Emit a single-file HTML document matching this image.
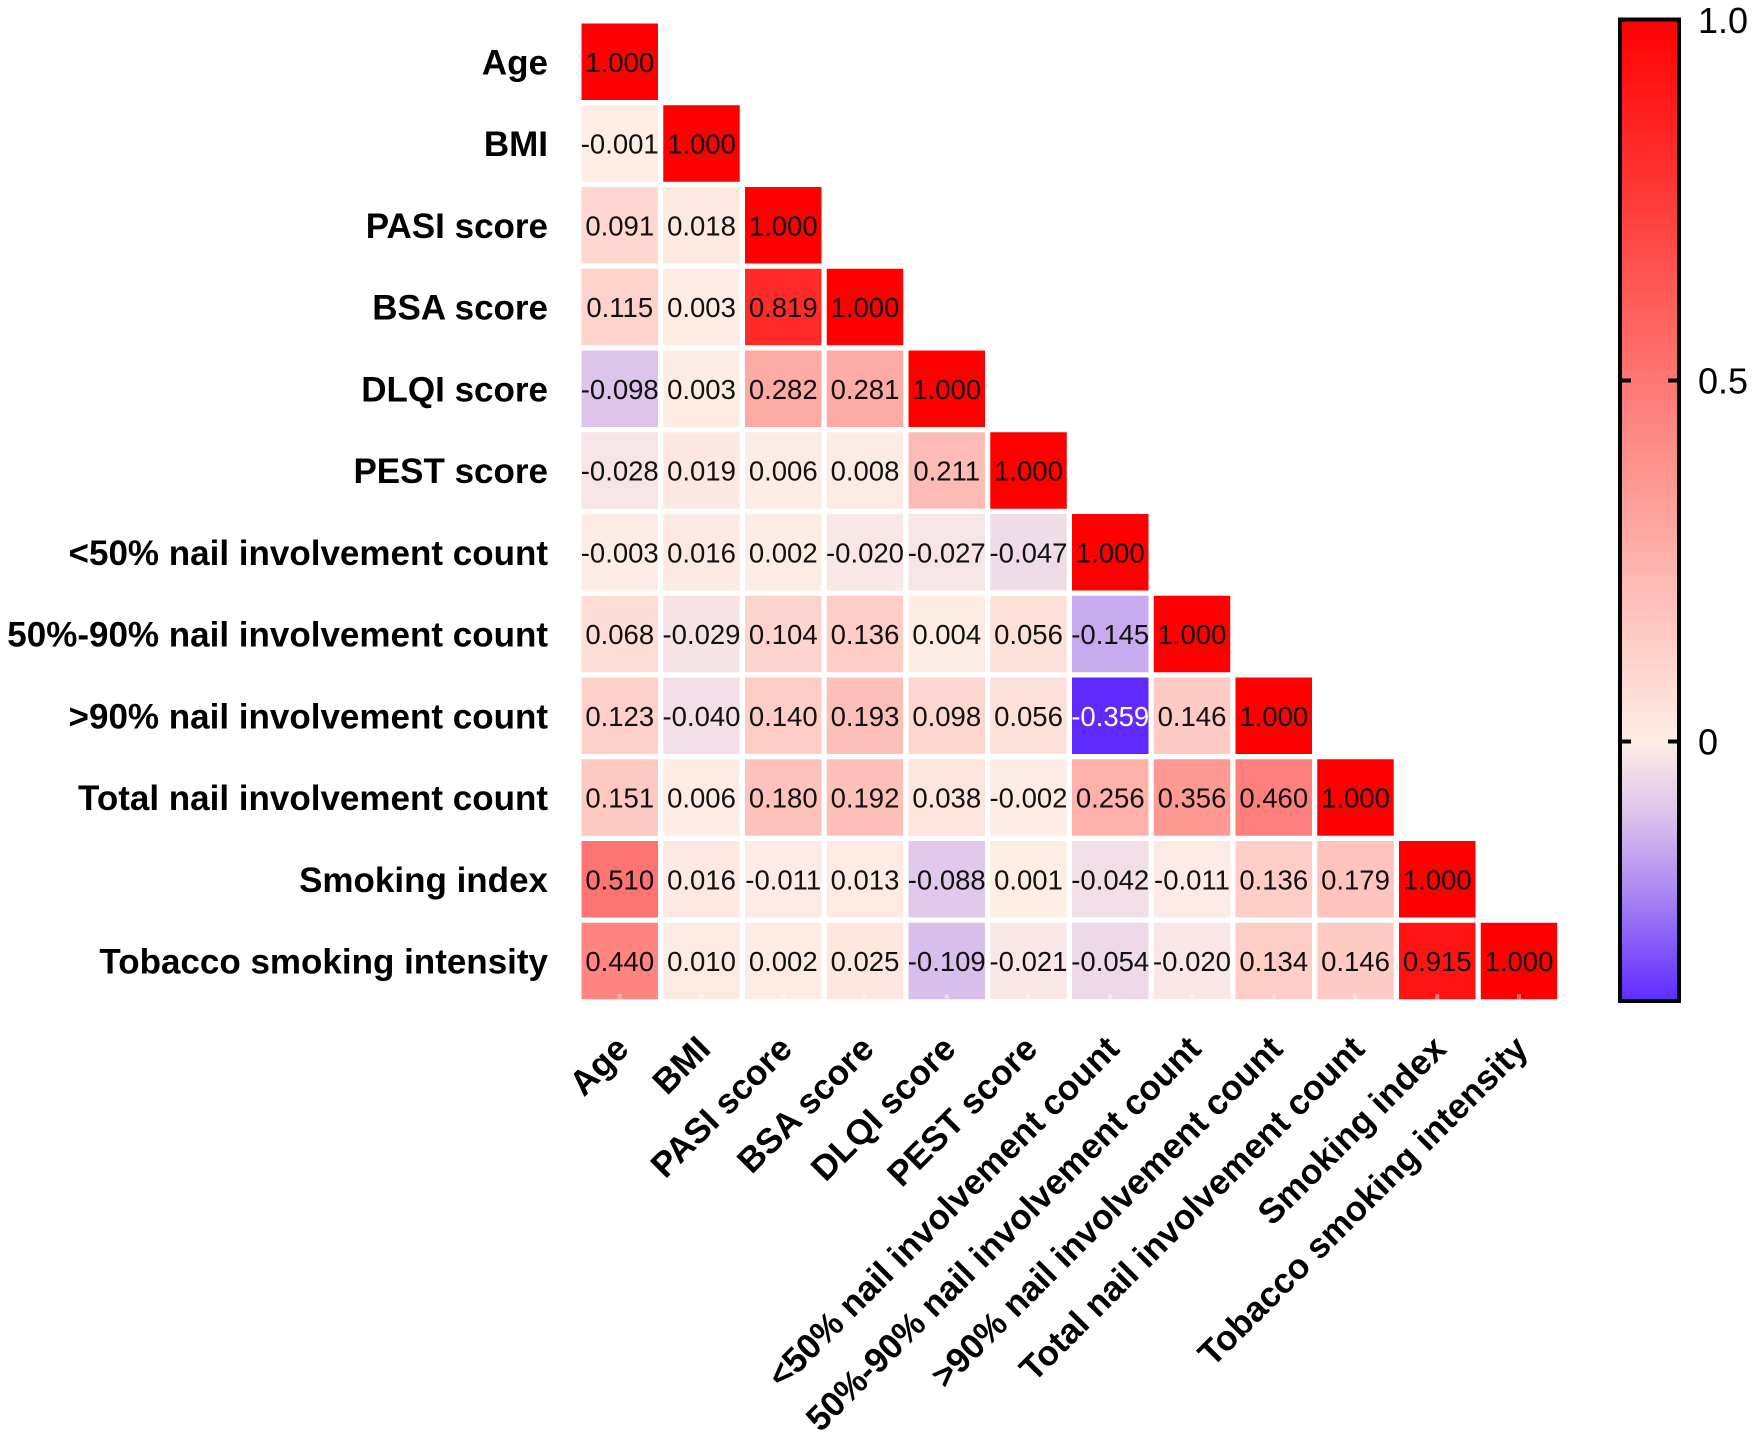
<!DOCTYPE html>
<html>
<head>
<meta charset="utf-8">
<style>
html,body{margin:0;padding:0;background:#fff;}
svg{display:block;}
.v{font-family:"Liberation Sans",Arial,sans-serif;font-size:27.5px;fill:#111;text-anchor:middle;}
.w{fill:#fff;}
.yl{font-family:"Liberation Sans",Arial,sans-serif;font-size:35px;font-weight:bold;fill:#000;text-anchor:end;}
.xl{font-family:"Liberation Sans",Arial,sans-serif;font-size:35px;font-weight:bold;fill:#000;text-anchor:end;}
.cb{font-family:"Liberation Sans",Arial,sans-serif;font-size:36px;fill:#000;}
</style>
</head>
<body>
<svg width="1755" height="1440" viewBox="0 0 1755 1440" xmlns="http://www.w3.org/2000/svg">
<defs>
<linearGradient id="cg" x1="0" y1="0" x2="0" y2="1">
<stop offset="0" stop-color="rgb(255,0,0)"/>
<stop offset="0.7358" stop-color="rgb(253,237,229)"/>
<stop offset="0.8094" stop-color="rgb(219,195,235)"/>
<stop offset="0.883" stop-color="rgb(175,140,242)"/>
<stop offset="1" stop-color="rgb(95,42,255)"/>
</linearGradient>
</defs>
<rect width="1755" height="1440" fill="#fff"/>

<!-- Row 0 -->
<g transform="translate(0,23.5)">
<rect x="581.5" width="76.5" height="76.5" fill="rgb(255,0,0)"/><text class="v" x="619.75" y="48.25">1.000</text>
</g>
<!-- Row 1 -->
<g transform="translate(0,105.25)">
<rect x="581.5" width="76.5" height="76.5" fill="rgb(253,237,229)"/><text class="v" x="619.75" y="48.25">-0.001</text>
<rect x="663.25" width="76.5" height="76.5" fill="rgb(255,0,0)"/><text class="v" x="701.5" y="48.25">1.000</text>
</g>
<!-- Row 2 -->
<g transform="translate(0,187)">
<rect x="581.5" width="76.5" height="76.5" fill="rgb(253,215,208)"/><text class="v" x="619.75" y="48.25">0.091</text>
<rect x="663.25" width="76.5" height="76.5" fill="rgb(253,233,225)"/><text class="v" x="701.5" y="48.25">0.018</text>
<rect x="745" width="76.5" height="76.5" fill="rgb(255,0,0)"/><text class="v" x="783.25" y="48.25">1.000</text>
</g>
<!-- Row 3 -->
<g transform="translate(0,268.75)">
<rect x="581.5" width="76.5" height="76.5" fill="rgb(253,210,203)"/><text class="v" x="619.75" y="48.25">0.115</text>
<rect x="663.25" width="76.5" height="76.5" fill="rgb(253,236,228)"/><text class="v" x="701.5" y="48.25">0.003</text>
<rect x="745" width="76.5" height="76.5" fill="rgb(255,43,41)"/><text class="v" x="783.25" y="48.25">0.819</text>
<rect x="826.75" width="76.5" height="76.5" fill="rgb(255,0,0)"/><text class="v" x="865" y="48.25">1.000</text>
</g>
<!-- Row 4 -->
<g transform="translate(0,350.5)">
<rect x="581.5" width="76.5" height="76.5" fill="rgb(220,196,234)"/><text class="v" x="619.75" y="48.25">-0.098</text>
<rect x="663.25" width="76.5" height="76.5" fill="rgb(253,236,228)"/><text class="v" x="701.5" y="48.25">0.003</text>
<rect x="745" width="76.5" height="76.5" fill="rgb(254,170,164)"/><text class="v" x="783.25" y="48.25">0.282</text>
<rect x="826.75" width="76.5" height="76.5" fill="rgb(254,170,165)"/><text class="v" x="865" y="48.25">0.281</text>
<rect x="908.5" width="76.5" height="76.5" fill="rgb(255,0,0)"/><text class="v" x="946.75" y="48.25">1.000</text>
</g>
<!-- Row 5 -->
<g transform="translate(0,432.25)">
<rect x="581.5" width="76.5" height="76.5" fill="rgb(246,228,230)"/><text class="v" x="619.75" y="48.25">-0.028</text>
<rect x="663.25" width="76.5" height="76.5" fill="rgb(253,232,225)"/><text class="v" x="701.5" y="48.25">0.019</text>
<rect x="745" width="76.5" height="76.5" fill="rgb(253,236,228)"/><text class="v" x="783.25" y="48.25">0.006</text>
<rect x="826.75" width="76.5" height="76.5" fill="rgb(253,235,227)"/><text class="v" x="865" y="48.25">0.008</text>
<rect x="908.5" width="76.5" height="76.5" fill="rgb(253,187,181)"/><text class="v" x="946.75" y="48.25">0.211</text>
<rect x="990.25" width="76.5" height="76.5" fill="rgb(255,0,0)"/><text class="v" x="1028.5" y="48.25">1.000</text>
</g>
<!-- Row 6 -->
<g transform="translate(0,514)">
<rect x="581.5" width="76.5" height="76.5" fill="rgb(252,236,229)"/><text class="v" x="619.75" y="48.25">-0.003</text>
<rect x="663.25" width="76.5" height="76.5" fill="rgb(253,233,225)"/><text class="v" x="701.5" y="48.25">0.016</text>
<rect x="745" width="76.5" height="76.5" fill="rgb(253,236,228)"/><text class="v" x="783.25" y="48.25">0.002</text>
<rect x="826.75" width="76.5" height="76.5" fill="rgb(248,231,230)"/><text class="v" x="865" y="48.25">-0.020</text>
<rect x="908.5" width="76.5" height="76.5" fill="rgb(246,228,230)"/><text class="v" x="946.75" y="48.25">-0.027</text>
<rect x="990.25" width="76.5" height="76.5" fill="rgb(239,220,231)"/><text class="v" x="1028.5" y="48.25">-0.047</text>
<rect x="1072" width="76.5" height="76.5" fill="rgb(255,0,0)"/><text class="v" x="1110.25" y="48.25">1.000</text>
</g>
<!-- Row 7 -->
<g transform="translate(0,595.75)">
<rect x="581.5" width="76.5" height="76.5" fill="rgb(253,221,213)"/><text class="v" x="619.75" y="48.25">0.068</text>
<rect x="663.25" width="76.5" height="76.5" fill="rgb(245,227,230)"/><text class="v" x="701.5" y="48.25">-0.029</text>
<rect x="745" width="76.5" height="76.5" fill="rgb(253,212,205)"/><text class="v" x="783.25" y="48.25">0.104</text>
<rect x="826.75" width="76.5" height="76.5" fill="rgb(253,205,198)"/><text class="v" x="865" y="48.25">0.136</text>
<rect x="908.5" width="76.5" height="76.5" fill="rgb(253,236,228)"/><text class="v" x="946.75" y="48.25">0.004</text>
<rect x="990.25" width="76.5" height="76.5" fill="rgb(253,224,216)"/><text class="v" x="1028.5" y="48.25">0.056</text>
<rect x="1072" width="76.5" height="76.5" fill="rgb(200,171,238)"/><text class="v" x="1110.25" y="48.25">-0.145</text>
<rect x="1153.75" width="76.5" height="76.5" fill="rgb(255,0,0)"/><text class="v" x="1192" y="48.25">1.000</text>
</g>
<!-- Row 8 -->
<g transform="translate(0,677.5)">
<rect x="581.5" width="76.5" height="76.5" fill="rgb(253,208,201)"/><text class="v" x="619.75" y="48.25">0.123</text>
<rect x="663.25" width="76.5" height="76.5" fill="rgb(242,223,231)"/><text class="v" x="701.5" y="48.25">-0.040</text>
<rect x="745" width="76.5" height="76.5" fill="rgb(253,204,197)"/><text class="v" x="783.25" y="48.25">0.140</text>
<rect x="826.75" width="76.5" height="76.5" fill="rgb(253,191,185)"/><text class="v" x="865" y="48.25">0.193</text>
<rect x="908.5" width="76.5" height="76.5" fill="rgb(253,214,207)"/><text class="v" x="946.75" y="48.25">0.098</text>
<rect x="990.25" width="76.5" height="76.5" fill="rgb(253,224,216)"/><text class="v" x="1028.5" y="48.25">0.056</text>
<rect x="1072" width="76.5" height="76.5" fill="rgb(95,42,255)"/><text class="v w" x="1110.25" y="48.25">-0.359</text>
<rect x="1153.75" width="76.5" height="76.5" fill="rgb(253,202,196)"/><text class="v" x="1192" y="48.25">0.146</text>
<rect x="1235.5" width="76.5" height="76.5" fill="rgb(255,0,0)"/><text class="v" x="1273.75" y="48.25">1.000</text>
</g>
<!-- Row 9 -->
<g transform="translate(0,759.25)">
<rect x="581.5" width="76.5" height="76.5" fill="rgb(253,201,194)"/><text class="v" x="619.75" y="48.25">0.151</text>
<rect x="663.25" width="76.5" height="76.5" fill="rgb(253,236,228)"/><text class="v" x="701.5" y="48.25">0.006</text>
<rect x="745" width="76.5" height="76.5" fill="rgb(253,194,188)"/><text class="v" x="783.25" y="48.25">0.180</text>
<rect x="826.75" width="76.5" height="76.5" fill="rgb(253,192,185)"/><text class="v" x="865" y="48.25">0.192</text>
<rect x="908.5" width="76.5" height="76.5" fill="rgb(253,228,220)"/><text class="v" x="946.75" y="48.25">0.038</text>
<rect x="990.25" width="76.5" height="76.5" fill="rgb(252,236,229)"/><text class="v" x="1028.5" y="48.25">-0.002</text>
<rect x="1072" width="76.5" height="76.5" fill="rgb(254,176,170)"/><text class="v" x="1110.25" y="48.25">0.256</text>
<rect x="1153.75" width="76.5" height="76.5" fill="rgb(254,153,147)"/><text class="v" x="1192" y="48.25">0.356</text>
<rect x="1235.5" width="76.5" height="76.5" fill="rgb(254,128,124)"/><text class="v" x="1273.75" y="48.25">0.460</text>
<rect x="1317.25" width="76.5" height="76.5" fill="rgb(255,0,0)"/><text class="v" x="1355.5" y="48.25">1.000</text>
</g>
<!-- Row 10 -->
<g transform="translate(0,841)">
<rect x="581.5" width="76.5" height="76.5" fill="rgb(254,116,112)"/><text class="v" x="619.75" y="48.25">0.510</text>
<rect x="663.25" width="76.5" height="76.5" fill="rgb(253,233,225)"/><text class="v" x="701.5" y="48.25">0.016</text>
<rect x="745" width="76.5" height="76.5" fill="rgb(251,234,229)"/><text class="v" x="783.25" y="48.25">-0.011</text>
<rect x="826.75" width="76.5" height="76.5" fill="rgb(253,234,226)"/><text class="v" x="865" y="48.25">0.013</text>
<rect x="908.5" width="76.5" height="76.5" fill="rgb(224,201,234)"/><text class="v" x="946.75" y="48.25">-0.088</text>
<rect x="990.25" width="76.5" height="76.5" fill="rgb(253,237,229)"/><text class="v" x="1028.5" y="48.25">0.001</text>
<rect x="1072" width="76.5" height="76.5" fill="rgb(241,222,231)"/><text class="v" x="1110.25" y="48.25">-0.042</text>
<rect x="1153.75" width="76.5" height="76.5" fill="rgb(251,234,229)"/><text class="v" x="1192" y="48.25">-0.011</text>
<rect x="1235.5" width="76.5" height="76.5" fill="rgb(253,205,198)"/><text class="v" x="1273.75" y="48.25">0.136</text>
<rect x="1317.25" width="76.5" height="76.5" fill="rgb(253,195,188)"/><text class="v" x="1355.5" y="48.25">0.179</text>
<rect x="1399" width="76.5" height="76.5" fill="rgb(255,0,0)"/><text class="v" x="1437.25" y="48.25">1.000</text>
</g>
<!-- Row 11 -->
<g transform="translate(0,922.75)">
<rect x="581.5" width="76.5" height="76.5" fill="rgb(254,133,128)"/><text class="v" x="619.75" y="48.25">0.440</text>
<rect x="663.25" width="76.5" height="76.5" fill="rgb(253,235,227)"/><text class="v" x="701.5" y="48.25">0.010</text>
<rect x="745" width="76.5" height="76.5" fill="rgb(253,236,228)"/><text class="v" x="783.25" y="48.25">0.002</text>
<rect x="826.75" width="76.5" height="76.5" fill="rgb(253,231,223)"/><text class="v" x="865" y="48.25">0.025</text>
<rect x="908.5" width="76.5" height="76.5" fill="rgb(215,190,235)"/><text class="v" x="946.75" y="48.25">-0.109</text>
<rect x="990.25" width="76.5" height="76.5" fill="rgb(248,231,230)"/><text class="v" x="1028.5" y="48.25">-0.021</text>
<rect x="1072" width="76.5" height="76.5" fill="rgb(237,217,232)"/><text class="v" x="1110.25" y="48.25">-0.054</text>
<rect x="1153.75" width="76.5" height="76.5" fill="rgb(248,231,230)"/><text class="v" x="1192" y="48.25">-0.020</text>
<rect x="1235.5" width="76.5" height="76.5" fill="rgb(253,205,198)"/><text class="v" x="1273.75" y="48.25">0.134</text>
<rect x="1317.25" width="76.5" height="76.5" fill="rgb(253,202,196)"/><text class="v" x="1355.5" y="48.25">0.146</text>
<rect x="1399" width="76.5" height="76.5" fill="rgb(255,20,19)"/><text class="v" x="1437.25" y="48.25">0.915</text>
<rect x="1480.75" width="76.5" height="76.5" fill="rgb(255,0,0)"/><text class="v" x="1519" y="48.25">1.000</text>
</g>

<!-- subtle white x ticks at bottom -->
<g fill="#fff" opacity="0.4">
<rect x="617.75" y="994" width="4" height="5"/>
<rect x="699.5" y="994" width="4" height="5"/>
<rect x="781.25" y="994" width="4" height="5"/>
<rect x="863" y="994" width="4" height="5"/>
<rect x="944.75" y="994" width="4" height="5"/>
<rect x="1026.5" y="994" width="4" height="5"/>
<rect x="1108.25" y="994" width="4" height="5"/>
<rect x="1190" y="994" width="4" height="5"/>
<rect x="1271.75" y="994" width="4" height="5"/>
<rect x="1353.5" y="994" width="4" height="5"/>
<rect x="1435.25" y="994" width="4" height="5"/>
<rect x="1517" y="994" width="4" height="5"/>
</g>

<!-- Y labels -->
<text class="yl" x="548" y="74.25">Age</text>
<text class="yl" x="548" y="156">BMI</text>
<text class="yl" x="548" y="237.75">PASI score</text>
<text class="yl" x="548" y="319.5">BSA score</text>
<text class="yl" x="548" y="401.25">DLQI score</text>
<text class="yl" x="548" y="483">PEST score</text>
<text class="yl" x="548" y="564.75">&lt;50% nail involvement count</text>
<text class="yl" x="548" y="646.5">50%-90% nail involvement count</text>
<text class="yl" x="548" y="728.25">&gt;90% nail involvement count</text>
<text class="yl" x="548" y="810">Total nail involvement count</text>
<text class="yl" x="548" y="891.75">Smoking index</text>
<text class="yl" x="548" y="973.5">Tobacco smoking intensity</text>

<!-- X labels -->
<text class="xl" transform="translate(621.75,1042) rotate(-45)" y="12.5">Age</text>
<text class="xl" transform="translate(703.5,1042) rotate(-45)" y="12.5">BMI</text>
<text class="xl" transform="translate(785.25,1042) rotate(-45)" y="12.5">PASI score</text>
<text class="xl" transform="translate(867,1042) rotate(-45)" y="12.5">BSA score</text>
<text class="xl" transform="translate(948.75,1042) rotate(-45)" y="12.5">DLQI score</text>
<text class="xl" transform="translate(1030.5,1042) rotate(-45)" y="12.5">PEST score</text>
<text class="xl" transform="translate(1112.25,1042) rotate(-45)" y="12.5">&lt;50% nail involvement count</text>
<text class="xl" transform="translate(1194,1042) rotate(-45)" y="12.5">50%-90% nail involvement count</text>
<text class="xl" transform="translate(1275.75,1042) rotate(-45)" y="12.5">&gt;90% nail involvement count</text>
<text class="xl" transform="translate(1357.5,1042) rotate(-45)" y="12.5">Total nail involvement count</text>
<text class="xl" transform="translate(1439.25,1042) rotate(-45)" y="12.5">Smoking index</text>
<text class="xl" transform="translate(1521,1042) rotate(-45)" y="12.5">Tobacco smoking intensity</text>

<!-- Colorbar -->
<rect x="1620" y="19.5" width="59" height="981.5" fill="url(#cg)" stroke="#000" stroke-width="4"/>
<g stroke="#000" stroke-width="4">
<line x1="1620" y1="380.5" x2="1631" y2="380.5"/>
<line x1="1668" y1="380.5" x2="1679" y2="380.5"/>
<line x1="1620" y1="741.5" x2="1631" y2="741.5"/>
<line x1="1668" y1="741.5" x2="1679" y2="741.5"/>
</g>
<text class="cb" x="1698" y="33">1.0</text>
<text class="cb" x="1698" y="393.5">0.5</text>
<text class="cb" x="1698" y="754.5">0</text>
</svg>
</body>
</html>
